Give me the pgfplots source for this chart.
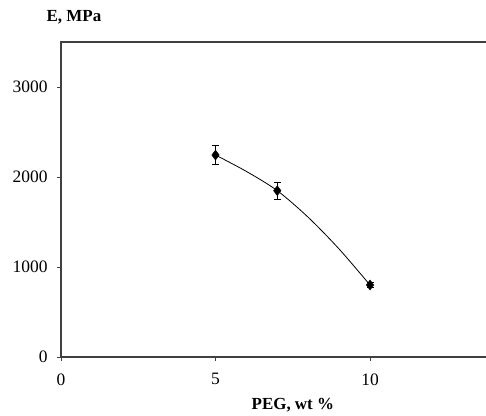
\documentclass[border=0pt]{standalone}
\usepackage{pgfplots}
\pgfplotsset{compat=1.18}
\usepackage{fontspec}
\setmainfont{Liberation Serif}
\definecolor{axgray}{HTML}{404040}
\begin{document}
\begin{tikzpicture}
\begin{axis}[
  at={(0,0)}, anchor=south west,
  scale only axis,
  width=432.6bp, height=315bp,
  xmin=0, xmax=14, ymin=0, ymax=3500,
  xtick={0,5,10}, ytick={0,1000,2000,3000},
  tick align=outside,
  xtick pos=bottom, ytick pos=left,
  major tick length=4bp,
  axis line style={axgray, line width=1.2pt},
  tick style={axgray, line width=1pt},
  /pgf/number format/assume math mode=true,
  ticklabel style={font=\fontsize{17.5}{20}\selectfont},
  yticklabel style={xshift=-6bp},
  xticklabel style={yshift=-9bp},
  scaled ticks=false,
  yticklabel={\pgfmathprintnumber[fixed,1000 sep={}]{\tick}},
  xlabel={\textbf{PEG, wt \%}},
  xlabel style={font=\fontsize{17}{20}\selectfont, at={(axis description cs:0.536,-0.152)}, anchor=center},
  ylabel={\textbf{E, MPa}},
  ylabel style={font=\fontsize{17}{20}\selectfont, rotate=-90, at={(axis description cs:0.03,1.079)}, anchor=center},
  clip=false,
]
% trend line
\addplot[black, line width=0.8pt, smooth, tension=0.5] coordinates {(5,2244) (6,2062) (7,1848) (8,1552) (9,1200) (10,800)};
\addplot[only marks, mark=diamond*, mark size=5bp, black,
  error bars/.cd, y dir=both, y explicit,
  error bar style={black, line width=0.8pt},
  error mark options={rotate=90, mark size=3.5bp, black, line width=0.8pt}]
  coordinates {(5,2244) +- (0,107) (7,1848) +- (0,94) (10,800) +- (0,25)};
\end{axis}
\pgfresetboundingbox
\path[use as bounding box] (-61bp,-59bp) rectangle (425bp,357bp);
\end{tikzpicture}
\end{document}
